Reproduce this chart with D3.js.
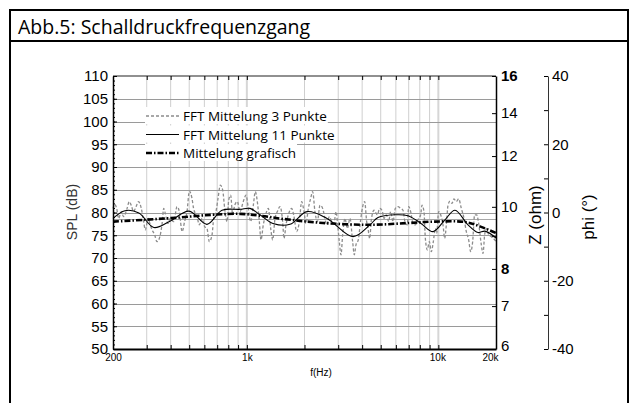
<!DOCTYPE html>
<html>
<head>
<meta charset="utf-8">
<script src="https://cdn.jsdelivr.net/npm/d3@7"></script>
<style>
body { margin: 0; background: #fff; }
svg { display: block; }
</style>
</head>
<body>
<script>
// --- data ---
let fft3Freq = [200,204,209,214,221,227,237,243,249,256,264,272,281,289,295,305,313,320,330,339,349,361,368,375,387,398,415,432,444,459,473,487,501,517,527,549,565,583,602,619,637,658,671,690,707,727,748,766,788,804,823,843,864,892,
  921,958,990,1018,1047,1081,1107,1134,1162,1185,1219,1259,1295,1332,1364,1403,1443,1490,1538,1563,1601,1647,1714,1763,1820,1880,1933,1988,2036,2094,2154,2206,2268,2334,2410,2488,2558,2610,2696,2774,2852,2922,2980,3040,3102,3164,3254,3348,3456,3568,3640,3714,3820,3930,4026,4124,4224,
  4292,4378,4468,4614,4802,4938,5078,5202,5350,5502,5636,5796,5962,6156,6356,6536,6722,6886,6998,7168,7372,7582,7828,8084,8214,8414,8552,8758,8972,9190,9414,9644,9800,10038,10282,10574,10790,11008,11230,11504,11782,12070,12410,12766,13184,13614,13998,14396,14746,15106,15472,15850,16236,16764,17104,17450,17804,18310,18908,19684,20000];
let fft3Spl = [80.9,81.8,80.9,78.7,80.2,79.1,80.9,82.4,81.6,80.2,81.3,82.4,80.9,78.0,76.2,78.7,77.3,76.2,75.1,73.6,74.3,77.6,80.9,79.8,77.6,78.7,78.0,81.3,80.2,75.8,78.0,80.2,84.7,83.1,80.9,79.1,77.3,78.7,76.9,76.5,73.6,75.1,78.7,80.2,83.1,86.0,84.9,80.9,78.0,82.7,83.8,79.5,81.6,82.4,
  80.2,82.4,83.8,80.9,78.0,81.6,84.6,82.4,78.0,74.0,77.3,79.8,80.9,76.5,74.0,78.7,80.2,81.3,78.0,74.3,77.3,79.5,80.9,79.1,75.8,78.0,82.4,80.2,77.6,80.9,83.1,84.6,80.2,78.0,81.6,80.9,78.7,77.3,79.1,78.0,77.6,80.2,77.3,73.6,70.7,75.1,78.7,76.5,78.7,73.6,70.7,72.9,74.0,78.4,81.3,82.4,78.0,
  76.5,74.3,78.4,80.5,79.5,80.9,80.5,78.7,79.5,78.0,80.2,78.0,80.9,81.3,80.9,80.5,77.6,77.3,81.3,80.2,77.6,77.3,78.4,79.5,81.6,80.2,74.3,71.8,73.6,71.4,73.6,76.5,75.4,80.2,79.5,77.3,74.3,77.3,81.6,82.5,82.0,83.0,82.4,83.0,80.9,78.7,75.8,74.0,71.4,73.6,79.5,79.5,77.6,72.9,71.0,75.1,76.5,75.1,74.7,74.0,73.6];

let fft11Freq = [200,231,273,327,397,499,619,742,921,1039,1171,1369,1680,2062,2622,3584,4396,4840,5938,6942,8116,9376,10832,12216,14282,16108,17520,20000];
let fft11Spl = [78.7,80.4,79.9,76.7,78.1,80.3,77.4,80.5,80.7,80.9,79.5,77.6,77.4,80.2,78.7,74.7,77.3,78.9,79.5,79.3,77.6,75.8,78.4,80.5,77.3,75.6,75.9,74.4];

let grafFreq = [200,294,442,658,925,1170,1540,2500,4400,7000,9600,13800,16600,20000];
let grafSpl = [78.0,78.4,78.9,79.5,79.7,79.3,78.6,77.7,77.3,77.7,78.0,77.9,76.9,75.5];

let refLevel = 78.5;

let splTicks = [50,55,60,65,70,75,80,85,90,95,100,105,110];
let zTicks = [6,7,8,9,10,12,14,16];
let zLabels = {6:'6',7:'7',8:'8',10:'10',12:'12',14:'14',16:'16'};
let phiTicks = [-40,-30,-20,-10,0,10,20,30,40];
let gridFreqs = [300,400,500,600,700,800,900,1000,2000,3000,4000,5000,6000,7000,8000,9000,10000];
let freqLabels = {200:'200',1000:'1k',10000:'10k',20000:'20k'};

let legendNames = ['FFT Mittelung 3 Punkte','FFT Mittelung 11 Punkte','Mittelung grafisch'];

// --- layout ---
let width = 638;
let height = 403;
let pLeft = 113, pRight = 496, pTop = 76, pBottom = 349;

let svg = d3.select('body').append('svg')
            .attr('width', width)
            .attr('height', height);

let x = d3.scaleLog().domain([200, 20000]).range([pLeft, pRight]);
let y = d3.scaleLinear().domain([50, 110]).range([pBottom, pTop]);
let z = d3.scaleLog().domain([6, 16]).range([pBottom, pTop]);
let p = d3.scaleLinear().domain([-40, 40]).range([pBottom, pTop]);

let axisFont = '"Liberation Sans", Arial, sans-serif';
let textFont = '"Open Sans", "Noto Sans", sans-serif';

// frame + title
svg.append('rect')
   .attr('x', 10).attr('y', 10)
   .attr('width', 618).attr('height', 430)
   .attr('fill', 'none')
   .attr('stroke', '#000')
   .attr('stroke-width', 2);
svg.append('line')
   .attr('x1', 10).attr('x2', 628)
   .attr('y1', 41).attr('y2', 41)
   .attr('stroke', '#000')
   .attr('stroke-width', 2);
svg.append('text')
   .attr('x', 18).attr('y', 34)
   .attr('font-family', textFont)
   .attr('font-size', '19.5px')
   .text('Abb.5: Schalldruckfrequenzgang');

// grid
svg.append('g').selectAll('line').data(gridFreqs)
   .enter().append('line')
   .attr('x1', d => x(d)).attr('x2', d => x(d))
   .attr('y1', pTop).attr('y2', pBottom)
   .attr('stroke', d => (d === 1000 || d === 10000) ? '#d6d6d6' : '#cfcfcf')
   .attr('stroke-width', d => (d === 1000 || d === 10000) ? 2 : 1);

svg.append('g').selectAll('line').data(splTicks.slice(1, -1))
   .enter().append('line')
   .attr('x1', pLeft).attr('x2', pRight)
   .attr('y1', d => Math.round(y(d)) + 0.5).attr('y2', d => Math.round(y(d)) + 0.5)
   .attr('stroke', '#9a9a9a');

svg.append('line')
   .attr('x1', pLeft).attr('x2', pRight)
   .attr('y1', Math.round(y(refLevel)) + 0.5).attr('y2', Math.round(y(refLevel)) + 0.5)
   .attr('stroke', '#a8a8a8');

// series
let toPts = (fs, vs) => fs.map((f, i) => [f, vs[i]]);

svg.append('path')
   .datum(toPts(fft3Freq, fft3Spl))
   .attr('fill', 'none')
   .attr('stroke', '#8c8c8c')
   .attr('stroke-width', 1.3)
   .attr('stroke-dasharray', '3,2')
   .attr('d', d3.line().x(d => x(d[0])).y(d => y(d[1])).curve(d3.curveMonotoneX));

svg.append('path')
   .datum(toPts(fft11Freq, fft11Spl))
   .attr('fill', 'none')
   .attr('stroke', '#000')
   .attr('stroke-width', 1.1)
   .attr('d', d3.line().x(d => x(d[0])).y(d => y(d[1])).curve(d3.curveCatmullRom));

svg.append('path')
   .datum(toPts(grafFreq, grafSpl))
   .attr('fill', 'none')
   .attr('stroke', '#000')
   .attr('stroke-width', 2.6)
   .attr('stroke-dasharray', '6,2,1.5,2')
   .attr('d', d3.line().x(d => x(d[0])).y(d => y(d[1])).curve(d3.curveCatmullRom));

// legend
let legendStyles = [
  {stroke: '#8c8c8c', w: 1.3, dash: '3,2'},
  {stroke: '#000', w: 1.1, dash: null},
  {stroke: '#000', w: 2.6, dash: '6,2,1.5,2'}
];
let legend = svg.append('g').selectAll('g').data(legendNames)
   .enter().append('g')
   .attr('transform', (d, i) => `translate(145,${116 + i * 18.5})`);
legend.append('text')
   .attr('x', 38).attr('y', 5)
   .attr('font-family', textFont)
   .attr('font-size', '13.5px')
   .text(d => d);
legend.each(function () {
  let g = d3.select(this);
  let b = g.select('text').node().getBBox();
  g.insert('rect', 'text')
   .attr('x', 0).attr('y', -9)
   .attr('width', b.x + b.width + 1).attr('height', 17)
   .attr('fill', '#fff');
});
legend.append('line')
   .attr('x1', 1).attr('x2', 34)
   .attr('y1', 0).attr('y2', 0)
   .attr('stroke', (d, i) => legendStyles[i].stroke)
   .attr('stroke-width', (d, i) => legendStyles[i].w)
   .attr('stroke-dasharray', (d, i) => legendStyles[i].dash);

// plot box top
svg.append('line').attr('x1', pLeft).attr('x2', pRight).attr('y1', pTop).attr('y2', pTop)
   .attr('stroke', '#222').attr('stroke-width', 1.2);

// left axis
let yAxis = svg.append('g')
   .attr('transform', `translate(${pLeft},0)`)
   .call(d3.axisLeft(y).tickValues(splTicks).tickSize(-4).tickPadding(5).tickSizeOuter(0));
svg.append('g')
   .attr('transform', `translate(${pLeft},0)`)
   .call(d3.axisLeft(y).tickValues(d3.range(50, 111, 1)).tickSize(-2).tickFormat('').tickSizeOuter(0))
   .select('.domain').remove();
yAxis.selectAll('text').attr('font-family', axisFont).attr('font-size', '15px').attr('fill', '#000');
yAxis.select('.domain').attr('stroke-width', 1.5);

// bottom axis
let xAxis = svg.append('g')
   .attr('transform', `translate(0,${pBottom})`)
   .call(d3.axisBottom(x).tickValues([200].concat(gridFreqs, [20000]))
           .tickSize(-4).tickSizeOuter(0).tickPadding(5)
           .tickFormat(d => freqLabels[d] || ''));
xAxis.selectAll('text')
   .attr('font-family', axisFont).attr('font-size', '10px').attr('fill', '#000')
   .attr('dx', d => d === 20000 ? -6 : (d === 10000 ? -1 : 0));
xAxis.select('.domain').attr('stroke-width', 2);

// top ticks
svg.append('g')
   .attr('transform', `translate(0,${pTop})`)
   .call(d3.axisTop(x).tickValues(gridFreqs).tickSize(-4).tickFormat('').tickSizeOuter(0))
   .select('.domain').remove();

// Z axis
let zAxis = svg.append('g')
   .attr('transform', `translate(${pRight},0)`)
   .call(d3.axisRight(z).tickValues(zTicks).tickSize(-4).tickPadding(5).tickSizeOuter(0)
           .tickFormat(d => zLabels[d] || ''));
zAxis.selectAll('text')
   .attr('font-family', axisFont).attr('font-size', '15px').attr('fill', '#000')
   .attr('font-weight', d => (d === 16 || d === 8) ? 'bold' : 'normal')
   .attr('dy', d => d === 6 ? '0.1em' : '0.32em');
zAxis.select('.domain').attr('stroke-width', 1.5);

// phi axis
let pAxis = svg.append('g')
   .attr('transform', `translate(548,0)`)
   .call(d3.axisRight(p).tickValues(phiTicks).tickSize(-4).tickPadding(4).tickSizeOuter(0)
           .tickFormat(d => d % 20 === 0 ? d : ''));
pAxis.selectAll('text').attr('font-family', axisFont).attr('font-size', '15px').attr('fill', '#000');
pAxis.select('.domain').attr('stroke', '#333');

// axis titles
svg.append('text')
   .attr('transform', 'translate(77,212) rotate(-90)')
   .attr('text-anchor', 'middle')
   .attr('font-family', axisFont)
   .attr('font-size', '14px')
   .attr('fill', '#333')
   .text('SPL (dB)');
svg.append('text')
   .attr('transform', 'translate(541,215) rotate(-90)')
   .attr('text-anchor', 'middle')
   .attr('font-family', axisFont)
   .attr('font-size', '17px')
   .text('Z (ohm)');
svg.append('text')
   .attr('transform', 'translate(594,217) rotate(-90)')
   .attr('text-anchor', 'middle')
   .attr('font-family', axisFont)
   .attr('font-size', '17px')
   .text('phi (°)');
svg.append('text')
   .attr('x', 321).attr('y', 376)
   .attr('text-anchor', 'middle')
   .attr('font-family', axisFont)
   .attr('font-size', '10px')
   .text('f(Hz)');
</script>
</body>
</html>
